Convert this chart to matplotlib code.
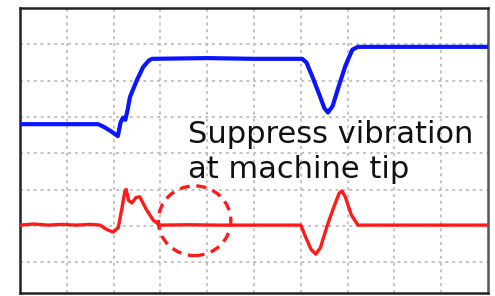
##############################################################################
# Oscilloscope-style response chart
##############################################################################
import matplotlib
matplotlib.use('Agg')
import matplotlib.pyplot as plt
from matplotlib.patches import Ellipse

##############################################################################
# Data (x, y in grid divisions; y counted from the bottom)
##############################################################################
blueX = [0.00, 1.67, 1.80, 1.95, 2.09, 2.15, 2.20, 2.25, 2.30, 2.35, 2.50,
         2.63, 2.75, 2.82, 4.00, 5.00, 6.03, 6.12, 6.25, 6.40, 6.50, 6.58,
         6.68, 6.80, 6.95, 7.10, 7.22, 8.50, 10.0]
blueY = [4.80, 4.80, 4.72, 4.60, 4.47, 4.85, 4.98, 4.92, 5.20, 5.55, 6.02,
         6.37, 6.55, 6.60, 6.62, 6.60, 6.60, 6.50, 6.10, 5.60, 5.25, 5.12,
         5.30, 5.80, 6.40, 6.85, 6.93, 6.93, 6.93]
redX = [0.00, 0.30, 0.60, 0.90, 1.20, 1.50, 1.71, 1.85, 1.99, 2.10, 2.18,
        2.24, 2.27, 2.32, 2.39, 2.48, 2.56, 2.70, 2.85, 2.99, 3.60, 4.20,
        5.00, 6.00, 6.10, 6.22, 6.32, 6.42, 6.55, 6.70, 6.82, 6.88, 6.95,
        7.08, 7.22, 8.50, 10.0]
redY = [2.02, 2.05, 2.02, 2.04, 2.02, 2.04, 2.02, 1.90, 1.83, 1.95, 2.50,
        2.95, 3.00, 2.70, 2.63, 2.78, 2.80, 2.45, 2.15, 2.02, 2.03, 2.02,
        2.02, 2.02, 1.70, 1.35, 1.22, 1.40, 1.95, 2.50, 2.90, 2.96, 2.80,
        2.30, 2.02, 2.02, 2.02]
LABEL = 'Suppress vibration\nat machine tip'

##############################################################################
# Figure
##############################################################################
fig = plt.figure(figsize=(4.95, 2.96), dpi=100, facecolor='w')
ax = fig.add_axes([20/495, 3/296, 468/495, 285/296])
ax.set_xlim(0, 10)
ax.set_ylim(0.15, 8)

for gx in range(1, 10):
    ax.axvline(gx, color='#bdbdbd', lw=1.3, ls=(0, (1.6, 2.2)), zorder=1)
for gy in range(1, 8):
    ax.axhline(gy, color='#bdbdbd', lw=1.3, ls=(0, (1.6, 2.2)), zorder=1)

ax.plot(blueX, blueY, color='#0a14ff', lw=3.0, zorder=3,
        solid_joinstyle='round')
ax.plot(redX, redY, color='#ff1a1a', lw=2.4, zorder=3,
        solid_joinstyle='round')

ax.add_patch(Ellipse((3.73, 2.14), 1.55, 1.92, fill=False,
                     ec='#ff1a1a', lw=2.4, ls=(0, (3, 2)), zorder=4))

ax.text(3.6, 4.91, LABEL, fontsize=22, family='DejaVu Sans', color='#111111',
        ha='left', va='top', linespacing=1.25, zorder=5)

ax.set_xticks([])
ax.set_yticks([])
for side in ['left', 'top', 'bottom']:
    ax.spines[side].set_linewidth(1.8)
    ax.spines[side].set_color('#222222')
ax.spines['right'].set_linewidth(1.8)
ax.spines['right'].set_color('#555555')

plt.savefig('out.png', dpi=100, facecolor='w')
plt.close('all')
